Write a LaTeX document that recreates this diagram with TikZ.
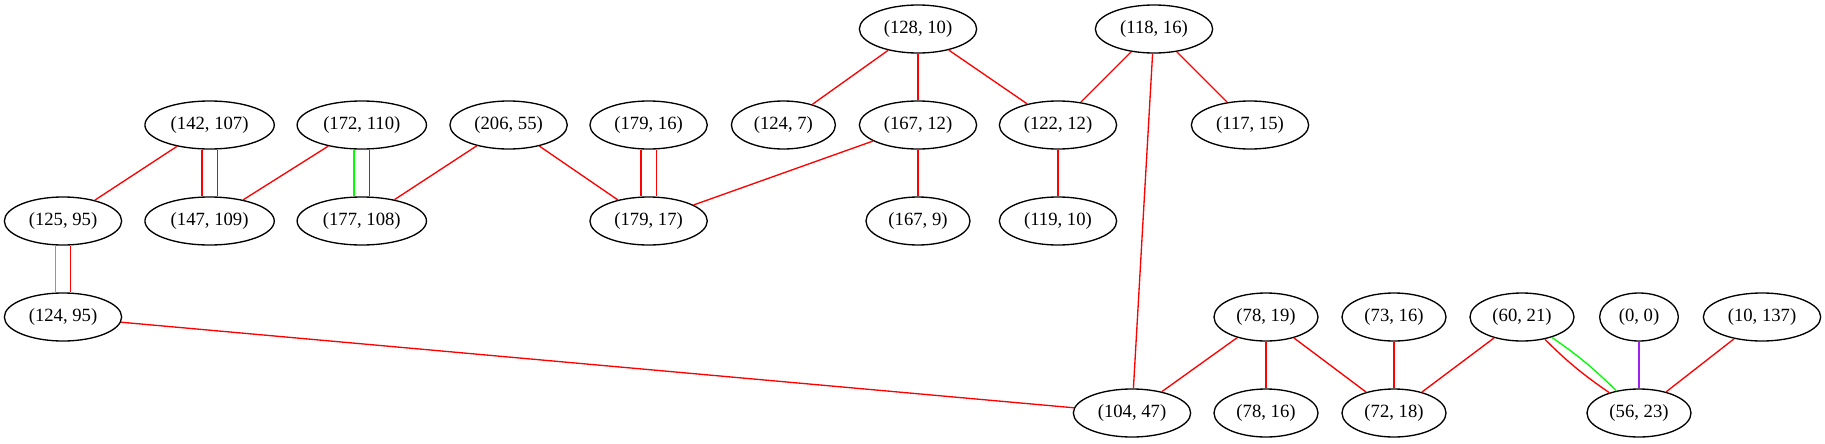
\documentclass[tikz,border=0pt]{standalone}
\usepackage{fontspec}
\setmainfont{Liberation Serif}
\usetikzlibrary{shapes.geometric}
\definecolor{gvred}{HTML}{FF0000}
\definecolor{gvgreen}{HTML}{00FF00}
\definecolor{gvpurple}{HTML}{A020F0}
\begin{document}
\begin{tikzpicture}[x=0.75pt,y=0.75pt,
  nd/.style={ellipse,draw=black,line width=1pt,minimum height=36pt,inner sep=1pt,font=\fontsize{14}{16}\selectfont},
  wtwo/.style={nd,minimum width=59pt},
  wfour/.style={nd,minimum width=78pt},
  wfive/.style={nd,minimum width=88pt},
  wsix/.style={nd,minimum width=97pt},
  re/.style={draw=gvred,line width=1pt},
  ge/.style={draw=gvgreen,line width=1pt},
  pe/.style={draw=gvpurple,line width=1pt},
  pb/.style={bend left=5},
  nb/.style={bend right=5}]
\useasboundingbox (0,0) rectangle (1825,-443);
% rank 0
\node[wfive] (n128x10) at (918,-29) {(128, 10)};
\node[wfive] (n118x16) at (1154,-29) {(118, 16)};
% rank 1
\node[wsix] (n142x107) at (209.6,-125) {(142, 107)};
\node[wsix] (n172x110) at (361.8,-125) {(172, 110)};
\node[wfive] (n206x55) at (508.6,-125) {(206, 55)};
\node[wfive] (n179x16) at (648.6,-125) {(179, 16)};
\node[wfour] (n124x7) at (783.4,-125) {(124, 7)};
\node[wfive] (n167x12) at (918,-125) {(167, 12)};
\node[wfive] (n122x12) at (1058,-125) {(122, 12)};
\node[wfive] (n117x15) at (1250,-125) {(117, 15)};
% rank 2
\node[wfive] (n125x95) at (63,-221) {(125, 95)};
\node[wsix] (n147x109) at (209.6,-221) {(147, 109)};
\node[wsix] (n177x108) at (361.8,-221) {(177, 108)};
\node[wfive] (n179x17) at (648.6,-221) {(179, 17)};
\node[wfour] (n167x9) at (918,-221) {(167, 9)};
\node[wfive] (n119x10) at (1058,-221) {(119, 10)};
% rank 3
\node[wfive] (n124x95) at (63,-317) {(124, 95)};
\node[wfour] (n78x19) at (1266,-317) {(78, 19)};
\node[wfour] (n73x16) at (1394,-317) {(73, 16)};
\node[wfour] (n60x21) at (1522,-317) {(60, 21)};
\node[wtwo] (n0x0) at (1639,-317) {(0, 0)};
\node[wfive] (n10x137) at (1762,-317) {(10, 137)};
% rank 4
\node[wfive] (n104x47) at (1132,-413) {(104, 47)};
\node[wfour] (n78x16) at (1266,-413) {(78, 16)};
\node[wfour] (n72x18) at (1394,-413) {(72, 18)};
\node[wfour] (n56x23) at (1639,-413) {(56, 23)};
% edges
\draw[re] (n128x10) -- (n124x7);
\draw[re] (n128x10) -- (n167x12);
\draw[re] (n128x10) -- (n122x12);
\draw[re] (n118x16) -- (n122x12);
\draw[re] (n118x16) -- (n117x15);
\draw[re] (n118x16) -- (n104x47);
\draw[re] (n142x107) -- (n125x95);
\draw[re] ([xshift=-5.8pt]n142x107.south) -- ([xshift=-5.8pt]n147x109.north);
\draw[re] ([xshift=5.8pt]n142x107.south) -- ([xshift=5.8pt]n147x109.north);
\draw[re] (n172x110) -- (n147x109);
\draw[ge] ([xshift=-5.8pt]n172x110.south) -- ([xshift=-5.8pt]n177x108.north);
\draw[re] ([xshift=5.8pt]n172x110.south) -- ([xshift=5.8pt]n177x108.north);
\draw[re] (n206x55) -- (n177x108);
\draw[re] (n206x55) -- (n179x17);
\draw[re] ([xshift=-5.8pt]n179x16.south) -- ([xshift=-5.8pt]n179x17.north);
\draw[re] ([xshift=5.8pt]n179x16.south) -- ([xshift=5.8pt]n179x17.north);
\draw[re] (n167x12) -- (n179x17);
\draw[re] (n167x12) -- (n167x9);
\draw[re] (n122x12) -- (n119x10);
\draw[ge] ([xshift=-5.8pt]n125x95.south) -- ([xshift=-5.8pt]n124x95.north);
\draw[re] ([xshift=5.8pt]n125x95.south) -- ([xshift=5.8pt]n124x95.north);
\draw[re] (n124x95) -- (n104x47);
\draw[re] (n78x19) -- (n104x47);
\draw[re] (n78x19) -- (n78x16);
\draw[re] (n78x19) -- (n72x18);
\draw[re] (n73x16) -- (n72x18);
\draw[re] (n60x21) -- (n72x18);
\draw[re] (n60x21) to[nb] (n56x23);
\draw[ge] (n60x21) to[pb] (n56x23);
\draw[pe] (n0x0) -- (n56x23);
\draw[re] (n10x137) -- (n56x23);
\end{tikzpicture}
\end{document}
